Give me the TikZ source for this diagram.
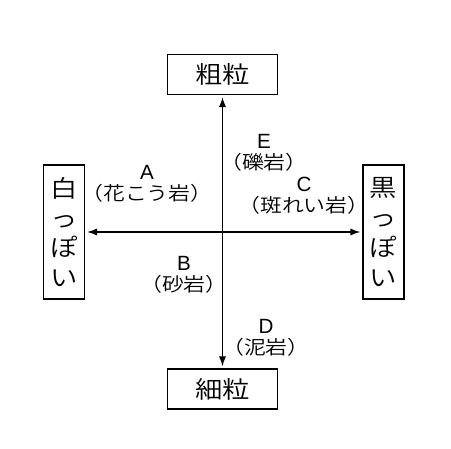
\documentclass[tikz,border=0pt]{standalone}
\usepackage{fontspec}
\setmainfont{Noto Sans CJK JP}[UprightFont=* DemiLight,FakeStretch=1.15]
\newfontfamily\latin{Liberation Sans}
\usetikzlibrary{arrows.meta}

\begin{document}
\begin{tikzpicture}[x=0.5pt,y=-0.5pt,line width=0.65pt,
	box/.style={draw,inner sep=0pt,align=center,font=\fontsize{11.9}{14.9}\selectfont},
	lbl/.style={inner sep=0pt,align=center,font=\fontsize{9.5}{10.5}\selectfont},
	tip/.style={{Latex[length=5pt,width=3.6pt]}-{Latex[length=5pt,width=3.6pt]},shorten <=1pt,shorten >=1pt}]
\useasboundingbox (0,0) rectangle (451,449);

\node[box,minimum width=55pt,minimum height=20pt] (coarse) at (222.5,74.5) {粗粒};
\node[box,minimum width=55pt,minimum height=20pt] (fine) at (222.5,389) {細粒};
\node[box,minimum width=20.5pt,minimum height=67pt] (white) at (64,232) {白\\っ\\ぽ\\い};
\node[box,minimum width=20.5pt,minimum height=67pt] (black) at (383.5,232) {黒\\っ\\ぽ\\い};

\draw[tip](coarse)--(fine);
\draw[tip](white)--(black);

\foreach \n/\x/\y/\t in {A/147/184/花こう岩,E/264/153/礫岩,C/304/196/斑れい岩,B/184/275/砂岩,D/266/338/泥岩}
	\node[lbl] (\n) at (\x,\y) {{\latin\fontsize{10.3}{10.5}\selectfont\n}\\（\t）};
\end{tikzpicture}
\end{document}
